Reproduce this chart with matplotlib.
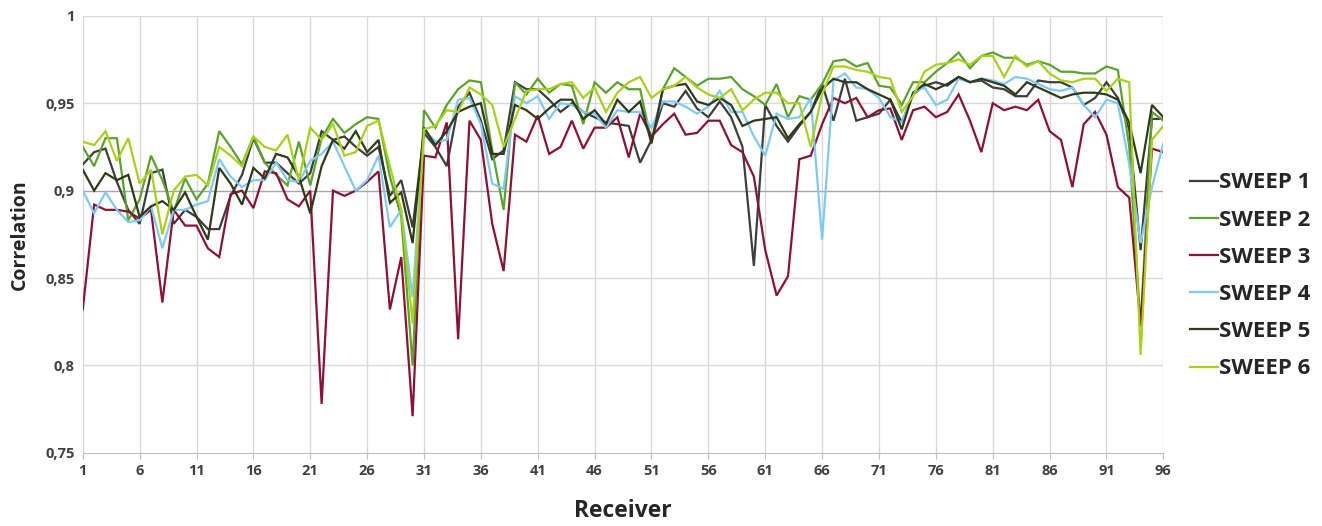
import numpy as np
import matplotlib
matplotlib.use("Agg")
import matplotlib.pyplot as plt

plt.rcParams['font.family'] = ['Open Sans', 'DejaVu Sans']

receivers = np.arange(1, 97)

sweep1 = [0.915, 0.922, 0.924, 0.905, 0.889, 0.881, 0.910, 0.912, 0.881, 0.889, 0.885, 0.878, 0.878, 0.897, 0.909, 0.930,
          0.916, 0.916, 0.910, 0.904, 0.910, 0.934, 0.929, 0.931, 0.925, 0.920, 0.925, 0.897, 0.906, 0.879, 0.933, 0.925,
          0.914, 0.948, 0.956, 0.940, 0.918, 0.923, 0.962, 0.958, 0.958, 0.952, 0.945, 0.950, 0.945, 0.942, 0.939, 0.938,
          0.937, 0.916, 0.929, 0.950, 0.948, 0.957, 0.947, 0.942, 0.951, 0.942, 0.925, 0.857, 0.949, 0.937, 0.928, 0.937,
          0.945, 0.961, 0.940, 0.964, 0.940, 0.942, 0.944, 0.952, 0.939, 0.955, 0.960, 0.962, 0.960, 0.965, 0.962, 0.963,
          0.959, 0.958, 0.954, 0.954, 0.963, 0.962, 0.962, 0.959, 0.949, 0.953, 0.962, 0.953, 0.935, 0.866, 0.941, 0.941]

sweep2 = [0.925, 0.914, 0.930, 0.930, 0.883, 0.895, 0.920, 0.906, 0.888, 0.907, 0.895, 0.904, 0.934, 0.925, 0.915, 0.931,
          0.916, 0.909, 0.903, 0.928, 0.903, 0.930, 0.941, 0.933, 0.938, 0.942, 0.941, 0.908, 0.885, 0.800, 0.946, 0.936,
          0.949, 0.958, 0.963, 0.962, 0.923, 0.889, 0.962, 0.955, 0.964, 0.956, 0.961, 0.960, 0.938, 0.962, 0.956, 0.962,
          0.958, 0.958, 0.928, 0.958, 0.970, 0.965, 0.960, 0.964, 0.964, 0.965, 0.958, 0.954, 0.949, 0.961, 0.942, 0.954,
          0.952, 0.961, 0.974, 0.975, 0.971, 0.973, 0.960, 0.959, 0.949, 0.962, 0.962, 0.968, 0.973, 0.979, 0.970, 0.977,
          0.979, 0.976, 0.976, 0.972, 0.974, 0.972, 0.968, 0.968, 0.967, 0.967, 0.971, 0.969, 0.925, 0.822, 0.945, 0.940]

sweep3 = [0.832, 0.892, 0.889, 0.889, 0.888, 0.884, 0.889, 0.836, 0.889, 0.880, 0.880, 0.867, 0.862, 0.898, 0.900, 0.890,
          0.911, 0.910, 0.895, 0.891, 0.900, 0.778, 0.900, 0.897, 0.900, 0.905, 0.911, 0.832, 0.862, 0.771, 0.920, 0.919,
          0.939, 0.815, 0.940, 0.929, 0.881, 0.854, 0.932, 0.928, 0.943, 0.921, 0.925, 0.940, 0.924, 0.936, 0.936, 0.942,
          0.919, 0.944, 0.931, 0.938, 0.944, 0.932, 0.933, 0.940, 0.940, 0.926, 0.922, 0.908, 0.866, 0.840, 0.851, 0.918,
          0.920, 0.938, 0.953, 0.950, 0.953, 0.942, 0.946, 0.947, 0.929, 0.946, 0.948, 0.942, 0.945, 0.955, 0.940, 0.922,
          0.950, 0.946, 0.948, 0.946, 0.952, 0.934, 0.929, 0.902, 0.938, 0.945, 0.932, 0.902, 0.896, 0.823, 0.924, 0.922]

sweep4 = [0.900, 0.887, 0.899, 0.889, 0.882, 0.883, 0.891, 0.867, 0.889, 0.889, 0.892, 0.894, 0.918, 0.908, 0.902, 0.906,
          0.906, 0.916, 0.906, 0.905, 0.917, 0.921, 0.928, 0.914, 0.900, 0.906, 0.920, 0.879, 0.889, 0.839, 0.935, 0.928,
          0.929, 0.952, 0.953, 0.938, 0.904, 0.901, 0.954, 0.950, 0.954, 0.941, 0.950, 0.949, 0.945, 0.944, 0.936, 0.946,
          0.945, 0.945, 0.936, 0.951, 0.951, 0.948, 0.944, 0.948, 0.957, 0.945, 0.945, 0.931, 0.920, 0.944, 0.941, 0.942,
          0.953, 0.872, 0.963, 0.967, 0.959, 0.958, 0.953, 0.942, 0.939, 0.956, 0.959, 0.949, 0.952, 0.964, 0.962, 0.964,
          0.963, 0.961, 0.965, 0.964, 0.961, 0.958, 0.957, 0.959, 0.949, 0.942, 0.952, 0.950, 0.915, 0.870, 0.902, 0.927]

sweep5 = [0.912, 0.900, 0.910, 0.906, 0.909, 0.885, 0.891, 0.894, 0.889, 0.899, 0.885, 0.872, 0.913, 0.904, 0.892, 0.913,
          0.907, 0.921, 0.919, 0.908, 0.887, 0.914, 0.929, 0.924, 0.934, 0.922, 0.929, 0.893, 0.899, 0.870, 0.936, 0.926,
          0.934, 0.945, 0.948, 0.950, 0.921, 0.921, 0.949, 0.946, 0.941, 0.947, 0.952, 0.952, 0.941, 0.946, 0.938, 0.952,
          0.945, 0.951, 0.927, 0.958, 0.960, 0.961, 0.951, 0.949, 0.953, 0.949, 0.937, 0.940, 0.941, 0.942, 0.930, 0.938,
          0.945, 0.958, 0.964, 0.962, 0.962, 0.958, 0.955, 0.952, 0.935, 0.956, 0.961, 0.958, 0.961, 0.965, 0.962, 0.964,
          0.962, 0.960, 0.955, 0.962, 0.959, 0.956, 0.953, 0.955, 0.956, 0.956, 0.955, 0.952, 0.939, 0.910, 0.949, 0.942]

sweep6 = [0.928, 0.926, 0.934, 0.917, 0.930, 0.904, 0.912, 0.875, 0.900, 0.908, 0.909, 0.903, 0.925, 0.920, 0.914, 0.931,
          0.925, 0.923, 0.932, 0.906, 0.936, 0.929, 0.938, 0.920, 0.922, 0.937, 0.940, 0.914, 0.889, 0.824, 0.935, 0.937,
          0.946, 0.945, 0.959, 0.955, 0.949, 0.925, 0.941, 0.957, 0.958, 0.958, 0.961, 0.962, 0.953, 0.959, 0.945, 0.956,
          0.962, 0.965, 0.953, 0.958, 0.960, 0.965, 0.959, 0.955, 0.953, 0.958, 0.946, 0.952, 0.956, 0.956, 0.950, 0.950,
          0.925, 0.955, 0.971, 0.971, 0.969, 0.968, 0.965, 0.964, 0.945, 0.954, 0.968, 0.972, 0.973, 0.975, 0.972, 0.977,
          0.977, 0.965, 0.977, 0.971, 0.974, 0.967, 0.963, 0.962, 0.964, 0.964, 0.957, 0.964, 0.962, 0.806, 0.929, 0.937]

series_names = ['SWEEP 1', 'SWEEP 2', 'SWEEP 3', 'SWEEP 4', 'SWEEP 5', 'SWEEP 6']
series_colors = ['#3d3d3d', '#5ba22e', '#8c1234', '#80c9f5', '#2e3a18', '#a8d11c']
y_ticks = [0.75, 0.8, 0.85, 0.9, 0.95, 1.0]
y_tick_labels = ['0,75', '0,8', '0,85', '0,9', '0,95', '1']
x_ticks = list(range(1, 97, 5))

fig = plt.figure(figsize=(13.22, 5.26), dpi=100)
ax = fig.add_axes([0.0626, 0.139, 0.8174, 0.831])

for name, vals, col in zip(series_names, [sweep1, sweep2, sweep3, sweep4, sweep5, sweep6], series_colors):
    ax.plot(receivers, vals, color=col, lw=1.6, label=name, solid_joinstyle='miter')

ax.set_xlim(1, 96)
ax.set_ylim(0.75, 1.0)
ax.set_yticks(y_ticks)
ax.set_yticklabels(y_tick_labels)
ax.set_xticks(x_ticks)

# grid: light vertical lines at every tick, horizontal lines with 0,9 emphasised
for x in x_ticks:
    ax.axvline(x, color='#d9d9d9', lw=1.0, zorder=0)
for y in y_ticks[1:]:
    ax.axhline(y, color='#a6a6a6' if y == 0.9 else '#d9d9d9', lw=1.0, zorder=0)

for side in ['top', 'right', 'left']:
    ax.spines[side].set_visible(False)
ax.spines['bottom'].set_color('#bfbfbf')
ax.tick_params(axis='y', length=0, pad=6, labelsize=10.5, labelcolor='#404040')
ax.tick_params(axis='x', length=4, color='#bfbfbf', pad=4, labelsize=10.5, labelcolor='#404040')
for lbl in ax.get_xticklabels() + ax.get_yticklabels():
    lbl.set_fontweight('bold')

ax.set_xlabel('Receiver', fontsize=16.5, fontweight='bold', color='#262626', labelpad=15)
ax.set_ylabel('Correlation', fontsize=14, fontweight='bold', color='#262626', labelpad=11)

leg = ax.legend(loc='center left', bbox_to_anchor=(1.025, 0.405), frameon=False,
                borderaxespad=0, borderpad=0,
                handlelength=1.25, handletextpad=0.05, labelspacing=0.73,
                prop={'size': 16, 'weight': 'bold'})
for t in leg.get_texts():
    t.set_color('#262626')

fig.savefig('out.png', dpi=100)
